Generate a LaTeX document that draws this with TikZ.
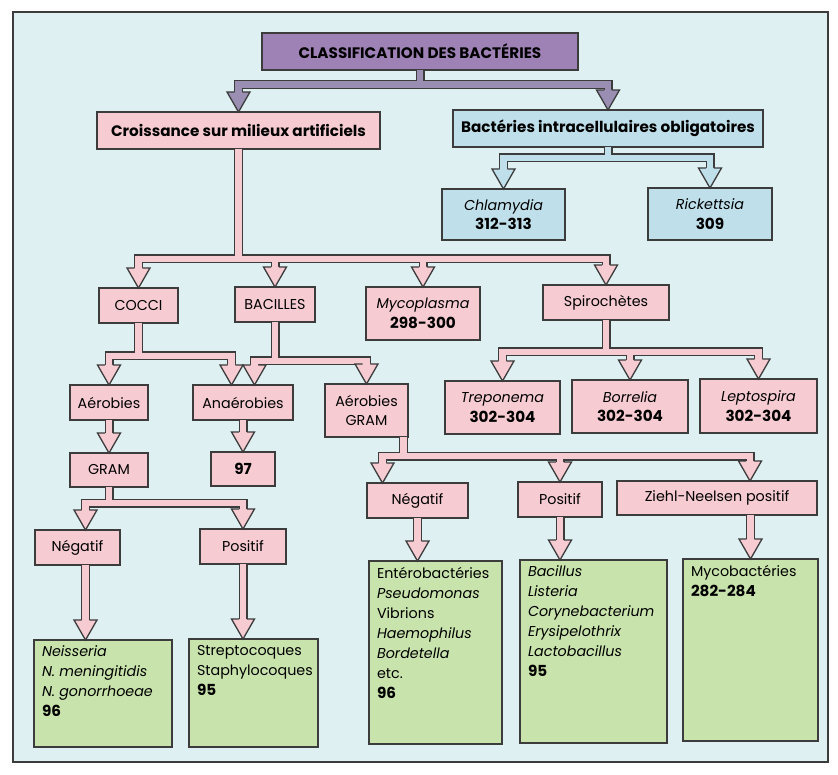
\documentclass[tikz,border=0pt]{standalone}
\usepackage{fontspec}
\setmainfont{Poppins}
\usetikzlibrary{calc}
\definecolor{bgc}{HTML}{DEF0F2}
\definecolor{pinkc}{HTML}{F6CCD2}
\definecolor{bluec}{HTML}{BFE0EA}
\definecolor{greenc}{HTML}{C8E3AB}
\definecolor{purpc}{HTML}{9E82B5}
\definecolor{purparr}{HTML}{9A8EB2}
\definecolor{edgec}{HTML}{3C3C3C}
\newcommand\bigb[1]{{\fontsize{15.2}{19}\selectfont\bfseries #1}}
\tikzset{
  boxs/.style={draw=edgec, line width=1.3pt, inner sep=0pt, outer sep=0pt, align=center,
    font=\fontsize{14.3}{19.5}\selectfont},
  pinkb/.style={boxs, fill=pinkc},
  blueb/.style={boxs, fill=bluec},
  purpb/.style={boxs, fill=purpc},
  greenb/.style={boxs, fill=greenc, inner xsep=8pt, inner ysep=6pt, anchor=north west, align=left,
    font=\fontsize{14.3}{20}\selectfont},
  shaftout/.style={line width=9pt, draw=edgec, line join=miter},
  shaftin/.style={line width=6.2pt, draw=#1, line join=miter},
}
\newcommand\mybox[7]{\node[#1, minimum width={#5-#3}, minimum height={#6-#4}] (#2) at ({(#3+#5)/2},{-(#4+#6)/2}) {#7};}
\newcommand\gbox[6]{\node[greenb] (#1) at (#2,-#3) {\parbox[t][\dimexpr #5pt-#3pt-12pt\relax][t]{\dimexpr #4pt-#2pt-16pt\relax}{\raggedright #6}};}
\newcommand\conn[2]{\draw[shaftout] #2; \draw[shaftin=#1] #2;}
\newcommand\hd[2]{\begin{scope}[shift={#2}]
  \fill[#1] (0,0) -- (-11.5,20) -- (11.5,20) -- cycle;
  \draw[edgec, line width=1.3pt, line join=miter] (-3.8,20) -- (-11.5,20) -- (0,0) -- (11.5,20) -- (3.8,20);
  \end{scope}}
\begin{document}
\begin{tikzpicture}[x=1pt,y=1pt]
\useasboundingbox (0,0) rectangle (838,-775);
\fill[white] (0,0) rectangle (838,-775);
\draw[fill=bgc, draw=edgec, line width=1.5pt] (13,-12) rectangle (828,-762);

% boxes
\mybox{purpb}{title}{262}{33}{578}{70}{\bigb{CLASSIFICATION DES BACTÉRIES}}
\mybox{pinkb}{croiss}{97}{112}{380}{149}{\bigb{Croissance sur milieux artificiels}}
\mybox{blueb}{bact}{453}{110}{763}{147}{\bigb{Bactéries intracellulaires obligatoires}}
\mybox{blueb}{chlam}{442}{189}{565}{240}{\textit{Chlamydia}\\\bigb{312-313}}
\mybox{blueb}{rick}{648}{188}{772}{240}{\textit{Rickettsia}\\\bigb{309}}
\mybox{pinkb}{cocci}{99}{288}{178}{323}{COCCI}
\mybox{pinkb}{bacil}{235}{287}{315}{322}{BACILLES}
\mybox{pinkb}{myco}{366}{287}{480}{340}{\textit{Mycoplasma}\\\bigb{298-300}}
\mybox{pinkb}{spiro}{543}{285}{669}{320}{Spirochètes}
\mybox{pinkb}{aer}{70}{385}{148}{420}{Aérobies}
\mybox{pinkb}{anae}{193}{385}{293}{420}{Anaérobies}
\mybox{pinkb}{ag}{325}{384}{408}{437}{Aérobies\\GRAM}
\mybox{pinkb}{trep}{445}{381}{560}{434}{\textit{Treponema}\\\bigb{302-304}}
\mybox{pinkb}{borr}{572}{380}{688}{433}{\textit{Borrelia}\\\bigb{302-304}}
\mybox{pinkb}{lept}{700}{379}{817}{433}{\textit{Leptospira}\\\bigb{302-304}}
\mybox{pinkb}{gram}{70}{453}{148}{487}{GRAM}
\mybox{pinkb}{n97}{211}{452}{275}{486}{\bigb{97}}
\mybox{pinkb}{negL}{35}{530}{120}{565}{Négatif}
\mybox{pinkb}{posL}{200}{529}{286}{564}{Positif}
\mybox{pinkb}{negM}{367}{483}{468}{518}{Négatif}
\mybox{pinkb}{posM}{518}{482}{602}{517}{Positif}
\mybox{pinkb}{ziehl}{617}{481}{817}{515}{Ziehl-Neelsen positif}
\gbox{neis}{34}{640}{172}{747}{\textit{Neisseria}\\\textit{N. meningitidis}\\\textit{N. gonorrhoeae}\\\bigb{96}}
\gbox{strep}{189}{639}{318}{747}{Streptocoques\\Staphylocoques\\\bigb{95}}
\gbox{entero}{369}{561}{502}{744}{Entérobactéries\\\textit{Pseudomonas}\\Vibrions\\\textit{Haemophilus}\\\textit{Bordetella}\\etc.\\\bigb{96}}
\gbox{bacl}{520}{560}{667}{743}{\textit{Bacillus}\\\textit{Listeria}\\\textit{Corynebacterium}\\\textit{Erysipelothrix}\\\textit{Lactobacillus}\\\bigb{95}}
\gbox{mycob}{683}{559}{818}{741}{Mycobactéries\\\bigb{282-284}}

% bar levels and offset tips
\coordinate (b1) at (0,-84.5);
\coordinate (b2) at (0,-259);
\coordinate (bb) at (0,-158);
\coordinate (b3) at (0,-356);
\coordinate (b4) at (0,-361);
\coordinate (b5) at (0,-503);
\coordinate (b6) at (0,-456);
\coordinate (bs) at (0,-352);
\coordinate (a1) at ($(anae.north)+(-11.5,0)$);
\coordinate (a2) at ($(anae.north)+(11.5,0)$);
\coordinate (n1) at ($(negL.north)+(8,0)$);
\coordinate (n2) at ($(negM.north)+(-35,0)$);
\coordinate (z1) at ($(ziehl.north)+(33,0)$);
\coordinate (t6) at ($(ag.south east)+(-4.5,0)$);

% purple connectors
\conn{purparr}{(title.south) -- (title.south |- b1)
  ($(croiss.north)+(0,20)$) |- (bact.north |- b1) -- ($(bact.north)+(0,20)$)}
\hd{purparr}{(croiss.north)}
\hd{purparr}{(bact.north)}

% blue connectors
\conn{bluec}{(bact.south) -- (bact.south |- bb)
  ($(chlam.north)+(0,20)$) |- (rick.north |- bb) -- ($(rick.north)+(0,20)$)}
\hd{bluec}{(chlam.north)}
\hd{bluec}{(rick.north)}

% pink connectors
\conn{pinkc}{(croiss.south) -- (croiss.south |- b2)
  ($(cocci.north)+(0,20)$) |- (spiro.north |- b2) -- ($(spiro.north)+(0,20)$)
  (bacil.north |- b2) -- ($(bacil.north)+(0,20)$)
  (myco.north |- b2) -- ($(myco.north)+(0,20)$)}
\hd{pinkc}{(cocci.north)}
\hd{pinkc}{(bacil.north)}
\hd{pinkc}{(myco.north)}
\hd{pinkc}{(spiro.north)}

\conn{pinkc}{(cocci.south) -- (cocci.south |- b3)
  ($(aer.north)+(0,20)$) |- (a1 |- b3) -- ($(a1)+(0,20)$)}
\conn{pinkc}{(bacil.south) -- (bacil.south |- b4)
  ($(a2)+(0,20)$) |- (ag.north |- b4) -- ($(ag.north)+(0,20)$)}
\hd{pinkc}{(aer.north)}
\hd{pinkc}{(a1)}
\hd{pinkc}{(a2)}
\hd{pinkc}{(ag.north)}

\conn{pinkc}{(spiro.south) -- (spiro.south |- bs)
  ($(trep.north)+(0,20)$) |- (lept.north |- bs) -- ($(lept.north)+(0,20)$)
  (borr.north |- bs) -- ($(borr.north)+(0,20)$)}
\hd{pinkc}{(trep.north)}
\hd{pinkc}{(borr.north)}
\hd{pinkc}{(lept.north)}

\conn{pinkc}{(aer.south) -- ($(gram.north)+(0,20)$)}
\hd{pinkc}{(gram.north)}
\conn{pinkc}{(anae.south) -- ($(n97.north)+(0,20)$)}
\hd{pinkc}{(n97.north)}

\conn{pinkc}{(gram.south) -- (gram.south |- b5)
  ($(n1)+(0,20)$) |- (posL.north |- b5) -- ($(posL.north)+(0,20)$)}
\hd{pinkc}{(n1)}
\hd{pinkc}{(posL.north)}
\conn{pinkc}{(n1 |- negL.south) -- ($(n1 |- neis.north)+(0,20)$)}
\hd{pinkc}{(n1 |- neis.north)}
\conn{pinkc}{(posL.south) -- ($(posL.south |- strep.north)+(0,20)$)}
\hd{pinkc}{(posL.south |- strep.north)}

\conn{pinkc}{(t6) -- (t6 |- b6)
  ($(n2)+(0,20)$) |- (z1 |- b6) -- ($(z1)+(0,20)$)
  (posM.north |- b6) -- ($(posM.north)+(0,20)$)}
\hd{pinkc}{(n2)}
\hd{pinkc}{(posM.north)}
\hd{pinkc}{(z1)}
\conn{pinkc}{(negM.south) -- ($(negM.south |- entero.north)+(0,20)$)}
\hd{pinkc}{(negM.south |- entero.north)}
\conn{pinkc}{(posM.south) -- ($(posM.south |- bacl.north)+(0,20)$)}
\hd{pinkc}{(posM.south |- bacl.north)}
\conn{pinkc}{(mycob.north |- ziehl.south) -- ($(mycob.north)+(0,20)$)}
\hd{pinkc}{(mycob.north)}
\end{tikzpicture}
\end{document}
